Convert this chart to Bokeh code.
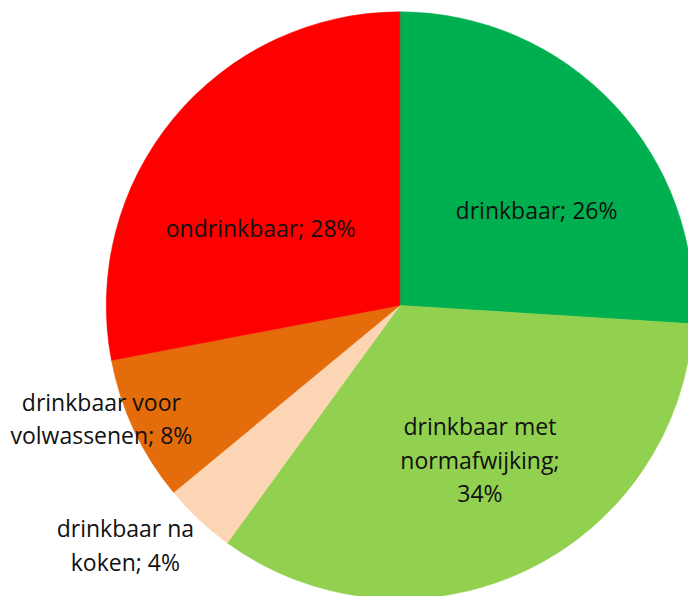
import math
from bokeh.plotting import figure
from bokeh.models import Range1d, ColumnDataSource
from bokeh.core.properties import value
from bokeh.embed import file_html
from bokeh.resources import INLINE

# ---- data ----
categories = ["drinkbaar", "drinkbaar met normafwijking", "drinkbaar na koken",
              "drinkbaar voor volwassenen", "ondrinkbaar"]
label_texts = ["drinkbaar; 26%", "drinkbaar met\nnormafwijking;\n34%", "drinkbaar na\nkoken; 4%",
               "drinkbaar voor\nvolwassenen; 8%", "ondrinkbaar; 28%"]
shares = [26, 34, 4, 8, 28]
colors = ["#00B050", "#92D050", "#FCD5B5", "#E46C0A", "#FF0000"]

# ---- layout: coordinate system spans the full 696x604 reference frame, y up ----
W, H = 688, 596
SPAN_X, SPAN_Y = 696, 604
CX, CY = 404, 295
R = 297
# label placement: radius and angle offset (degrees) relative to slice mid-angle
label_r = [169, 176, 369, 323, 161]
label_da = [-8.1, 2.2, -5.6, -4.4, 10.6]

total = sum(shares)
starts, ends, mids = [], [], []
cum = 0
for s in shares:
    a0 = 90 - cum / total * 360
    cum += s
    a1 = 90 - cum / total * 360
    starts.append(math.radians(a0))
    ends.append(math.radians(a1))
    mids.append((a0 + a1) / 2)

lx, ly = [], []
for m, r, da in zip(mids, label_r, label_da):
    a = math.radians(m + da)
    lx.append(CX + r * math.cos(a))
    ly.append(CY + r * math.sin(a))

src = ColumnDataSource(dict(start=starts, end=ends, color=colors, cat=categories))
lsrc = ColumnDataSource(dict(x=lx, y=ly, text=label_texts))

p = figure(width=W, height=H, output_backend="svg", toolbar_location=None,
           x_range=Range1d(0, SPAN_X), y_range=Range1d(0, SPAN_Y), min_border=0)
p.axis.visible = False
p.grid.visible = False
p.outline_line_color = None
p.background_fill_color = "white"

p.wedge(x=CX, y=CY, radius=R, start_angle="start", end_angle="end", direction="clock",
        fill_color="color", line_color="color", line_width=0.5, source=src)
p.text(x="x", y="y", text="text", source=lsrc, text_align="center", text_baseline="middle",
       text_font=value("Open Sans"), text_font_size="23px", text_color="#111111",
       text_line_height=1.05)

open("out.html", "w").write(file_html(p, INLINE))
